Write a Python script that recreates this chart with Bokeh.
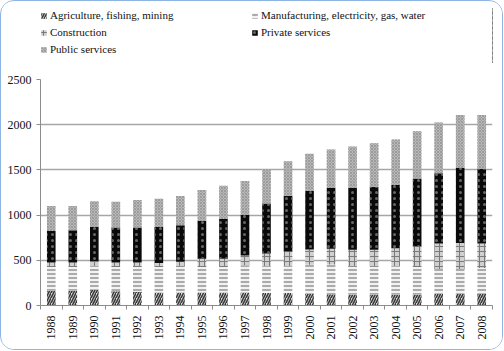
import math
from bokeh.plotting import figure
from bokeh.layouts import column
from bokeh.models import ColumnDataSource, Range1d, FixedTicker, Legend, LegendItem
from bokeh.embed import file_html
from bokeh.resources import INLINE

years = [1988, 1989, 1990, 1991, 1992, 1993, 1994, 1995, 1996, 1997, 1998,
         1999, 2000, 2001, 2002, 2003, 2004, 2005, 2006, 2007, 2008]
agriculture = [167, 167, 174, 159, 152, 144, 144, 144, 144, 144, 137,
               137, 130, 125, 122, 122, 122, 122, 130, 130, 130]
manufacturing = [260, 260, 263, 268, 275, 281, 286, 283, 283, 300, 299,
                 301, 320, 328, 306, 306, 311, 303, 275, 275, 285]
construction = [50, 50, 55, 50, 50, 45, 55, 90, 90, 110, 140,
                160, 170, 175, 190, 190, 200, 230, 280, 285, 270]
private_services = [348, 355, 377, 385, 385, 399, 403, 419, 441, 448, 552,
                    614, 648, 673, 681, 696, 703, 751, 777, 831, 829]
public_services = [277, 270, 285, 285, 304, 311, 322, 341, 367, 374, 381,
                   385, 411, 426, 459, 481, 499, 522, 561, 585, 592]
labels = ["Agriculture, fishing, mining", "Manufacturing, electricity, gas, water",
          "Construction", "Private services", "Public services"]
keys = ["agri", "manu", "cons", "priv", "publ"]
y_ticks = [0, 500, 1000, 1500, 2000, 2500]

src = ColumnDataSource(dict(year=years, agri=agriculture, manu=manufacturing,
                            cons=construction, priv=private_services, publ=public_services))

FONT = "'Liberation Serif'"

fills = ["#d9d9d9", "#f2f2f2", "#d0d0d0", "#0a0a0a", "#b8b8b8"]
hatches = ["/", "-", "+", ".", "x"]
hcolors = ["#3a3a3a", "#8c8c8c", "#7a7a7a", "#666666", "#8f8f8f"]
hscales = [5, 4, 5, 6, 3]
hweights = [1.6, 1.4, 1.0, 0.8, 0.7]
style = dict(width=0.4, line_color=None, fill_color=fills, hatch_pattern=hatches,
             hatch_color=hcolors, hatch_scale=hscales, hatch_weight=hweights)

# ---- main chart ----
p = figure(width=501, height=286, output_backend="svg", toolbar_location=None,
           x_range=Range1d(1987.5, 2008.5), y_range=Range1d(0, 2500),
           min_border_left=35, min_border_right=10, min_border_top=16, min_border_bottom=44)
p.outline_line_color = None
p.background_fill_color = "white"
p.border_fill_color = "white"

rs = p.vbar_stack(keys, x="year", source=src, **style)

p.xaxis.ticker = FixedTicker(ticks=years, minor_ticks=[y - 0.5 for y in years] + [2008.5])
p.xaxis.major_label_overrides = {y: str(y) for y in years}
p.xaxis.major_label_orientation = math.pi / 2
p.xaxis.major_tick_out = 0
p.xaxis.major_tick_in = 0
p.xaxis.minor_tick_out = 4
p.xaxis.minor_tick_in = 0
p.xaxis.minor_tick_line_color = "#8c8c8c"
p.xaxis.axis_line_color = "#8c8c8c"
p.xaxis.major_label_standoff = 6

p.yaxis.ticker = FixedTicker(ticks=y_ticks)
p.yaxis.major_tick_out = 4
p.yaxis.major_tick_in = 0
p.yaxis.minor_tick_line_color = None
p.yaxis.major_tick_line_color = "#8c8c8c"
p.yaxis.axis_line_color = "#8c8c8c"
p.yaxis.major_label_standoff = 5

for ax in (p.xaxis, p.yaxis):
    ax.major_label_text_font = FONT
    ax.major_label_text_font_size = "12px"
    ax.major_label_text_color = "#111111"

p.xgrid.grid_line_color = None
p.ygrid.ticker = FixedTicker(ticks=y_ticks)
p.ygrid.grid_line_color = "#a6a6a6"
p.ygrid.grid_line_width = 1.3

# ---- legend strip: same stacked series, kept outside its visible x range ----
lg = figure(width=501, height=62, output_backend="svg", toolbar_location=None,
            x_range=Range1d(0, 1), y_range=Range1d(0, 1),
            min_border_left=39, min_border_right=0, min_border_top=7, min_border_bottom=0)
lg.axis.visible = False
lg.grid.visible = False
lg.outline_line_color = None
lrs = lg.vbar_stack(keys, x="year", source=src, **style)

order = [0, 2, 4, 1, 3]   # column-major fill -> row-major appearance
legend = Legend(items=[LegendItem(label=labels[i], renderers=[lrs[i]]) for i in order],
                ncols=2, location="top_left", orientation="vertical")
legend.label_text_font = FONT
legend.label_text_font_size = "11px"
legend.label_text_color = "#111111"
legend.glyph_width = 7
legend.glyph_height = 7
legend.label_standoff = 3
legend.label_width = 198
legend.label_height = 14
legend.spacing = 3
legend.padding = 6
legend.margin = 0
legend.border_line_color = None
legend.background_fill_alpha = 0
lg.add_layout(legend, "center")

layout = column(lg, p, spacing=0)
layout.styles = {"border": "1.5px solid #8eb4e3", "border-radius": "14px",
                 "overflow": "hidden", "background-color": "white"}

open("out.html", "w").write(file_html(layout, INLINE))
